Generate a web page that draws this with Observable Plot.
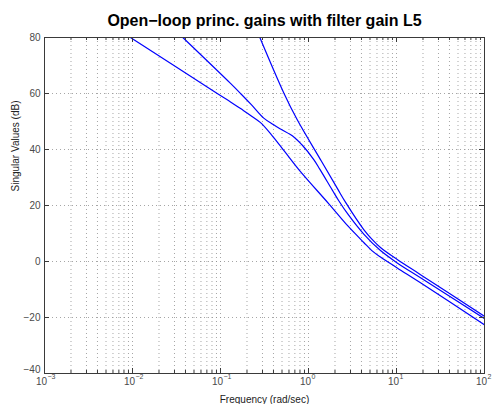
<!DOCTYPE html>
<html><head><meta charset="utf-8">
<script src="https://cdn.jsdelivr.net/npm/d3@7"></script>
<script src="https://cdn.jsdelivr.net/npm/@observablehq/plot@0.6"></script>
<style>
body{margin:0;background:#fff;}
#chart svg{display:block;font-family:"Liberation Sans",Arial,Helvetica,sans-serif;}
</style>
</head><body><div id="chart"></div>
<script>
const titleText = "Open\u2212loop princ. gains with filter gain L5";
const xLabel = "Frequency (rad/sec)";
const yLabel = "Singular Values (dB)";

// series 1 (largest singular value)
const freq1 = [0.280, 0.524, 0.745, 1.368, 2.118, 2.630, 4.246, 5.248, 6.577, 10.19, 18.75, 100];
const sv1   = [80, 60.2, 50.6, 36.4, 26.2, 21.2, 11.4, 8.0, 5.0, 0.7, -4.7, -19.6];
// series 2
const freq2 = [0.0373, 0.130, 0.169, 0.224, 0.310, 0.398, 0.481, 0.681, 0.847, 1.148, 1.343, 1.858, 2.208, 2.818, 4.246, 6.577, 10.19, 18.75, 100];
const sv2   = [80, 63.6, 60.0, 56.0, 51.2, 48.9, 47.3, 44.5, 41.6, 36.4, 33.0, 25.6, 21.7, 16.8, 9.8, 3.9, -0.5, -5.8, -20.4];
// series 3 (smallest singular value)
const freq3 = [0.00948, 0.0918, 0.130, 0.169, 0.224, 0.285, 0.372, 0.481, 0.776, 1.702, 2.818, 4.246, 5.248, 6.577, 10.19, 18.75, 100];
const sv3   = [80, 60, 57.0, 54.6, 52.0, 49.6, 45.6, 41.2, 32.8, 20.6, 12.6, 6.8, 3.9, 1.6, -2.3, -7.6, -22.6];

const xTicks = [0.001, 0.01, 0.1, 1, 10, 100];
const xTickBase = "10";
const xTickExps = ["\u22123", "\u22122", "\u22121", "0", "1", "2"];
const yTicks = [-40, -20, 0, 20, 40, 60, 80];
const minorMults = [2, 3, 4, 5, 6, 7, 8, 9];

const xMinor = xTicks.slice(0, -1).flatMap(d => minorMults.map(m => d * m));
const xGrid = xTicks.concat(xMinor);

const rows = [];
[[freq1, sv1, "s1"], [freq2, sv2, "s2"], [freq3, sv3, "s3"]].forEach(([f, v, s]) => {
  f.forEach((w, i) => rows.push({w, db: v[i], s}));
});

const W = 492, H = 404, mL = 44, mR = 8, mT = 37, mB = 31;
const fw = W - mL - mR, fh = H - mT - mB;
const gridStyle = {stroke: "#8f8f8f", strokeDasharray: "1,3", strokeWidth: 0.8};
const axisColor = "#3a3a3a";
const tickText = "#4a4a4a";

const chart = Plot.plot({
  width: W, height: H,
  marginLeft: mL, marginRight: mR, marginTop: mT, marginBottom: mB,
  style: {fontFamily: '"Liberation Sans",Arial,Helvetica,sans-serif', background: "#fff"},
  x: {type: "log", domain: [xTicks[0], xTicks[xTicks.length - 1]], axis: null},
  y: {domain: [yTicks[0], yTicks[yTicks.length - 1]], axis: null},
  marks: [
    Plot.ruleX(xGrid, {x: d => d, ...gridStyle}),
    Plot.ruleY(yTicks.slice(1, -1), {y: d => d, ...gridStyle}),
    Plot.line(rows, {x: "w", y: "db", z: "s", stroke: "#0000ff", strokeWidth: 1.2, curve: "catmull-rom", clip: true}),
    // inward ticks
    Plot.tickX(xTicks, {x: d => d, stroke: axisColor, insetBottom: fh - 5}),
    Plot.tickX(xTicks, {x: d => d, stroke: axisColor, insetTop: fh - 5}),
    Plot.tickX(xMinor, {x: d => d, stroke: axisColor, insetBottom: fh - 3}),
    Plot.tickX(xMinor, {x: d => d, stroke: axisColor, insetTop: fh - 3}),
    Plot.tickY(yTicks, {y: d => d, stroke: axisColor, insetRight: fw - 5}),
    Plot.tickY(yTicks, {y: d => d, stroke: axisColor, insetLeft: fw - 5}),
    Plot.frame({stroke: axisColor, strokeWidth: 1}),
    // x tick labels: base "10" plus raised exponent
    Plot.text(xTicks, {x: d => d, text: () => xTickBase, frameAnchor: "bottom", lineAnchor: "top", dy: 4, dx: -3, fontSize: 10, fill: tickText}),
    Plot.text(xTicks, {x: d => d, text: (d, i) => xTickExps[i], frameAnchor: "bottom", lineAnchor: "top", textAnchor: "start", dy: 1, dx: 3, fontSize: 7, fill: tickText}),
    Plot.axisY(yTicks.slice(1), {tickSize: 0, tickPadding: 4, fontSize: 10, fill: tickText, label: null}),
    Plot.axisY(yTicks.slice(0, 1), {tickSize: 0, tickPadding: 4, dy: -4, fontSize: 10, fill: tickText, label: null}),
    Plot.text([titleText], {frameAnchor: "top", dy: -11.5, lineAnchor: "bottom", fontSize: 16, fontWeight: "bold", fill: "#000"}),
    Plot.text([xLabel], {frameAnchor: "bottom", dy: 26, lineAnchor: "middle", fontSize: 10, fill: "#222"}),
    Plot.text([yLabel], {frameAnchor: "left", dx: -29, dy: -14, rotate: -90, lineAnchor: "middle", fontSize: 10, fill: "#222"})
  ]
});
document.getElementById("chart").append(chart);
</script>
</body></html>
